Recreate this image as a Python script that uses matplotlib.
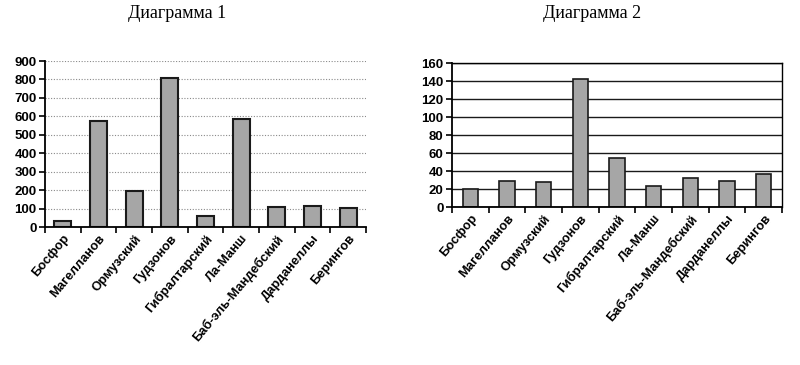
import numpy as np
import matplotlib
matplotlib.use("Agg")
import matplotlib.pyplot as plt

# ===== данные =====
STRAITS = ["Босфор", "Магелланов", "Ормузский", "Гудзонов", "Гибралтарский",
           "Ла-Манш", "Баб-эль-Мандебский", "Дарданеллы", "Берингов"]
VALUES_1 = [34, 575, 197, 806, 61, 584, 107, 116, 101]
VALUES_2 = [20, 29, 28, 142, 54, 23, 32, 29, 37]
TITLE_1 = "Диаграмма 1"
TITLE_2 = "Диаграмма 2"
# ==================

BAR_FACE = "#a6a6a6"
EDGE = "#1a1a1a"


def style_axis(ax, ymax, ystep, labels):
    x = np.arange(len(labels))
    ax.set_xlim(-0.5, len(labels) - 0.5)
    ax.set_ylim(0, ymax)
    ax.set_yticks(np.arange(0, ymax + 1, ystep))
    # риски между категориями, подписи под столбцами
    ax.set_xticks(np.arange(len(labels) + 1) - 0.5, minor=False)
    ax.set_xticklabels([])
    ax.set_xticks(x, minor=True)
    ax.set_xticklabels(labels, minor=True, rotation=50, ha="right",
                       rotation_mode="anchor", fontsize=9.3, fontweight="bold",
                       family="Liberation Sans")
    ax.tick_params(axis="x", which="minor", length=0, pad=4)
    ax.tick_params(axis="x", which="major", length=4, width=1.2, direction="out")
    ax.tick_params(axis="y", length=4, width=1.2, direction="out", pad=2)
    for lab in ax.get_yticklabels():
        lab.set_fontsize(9.5)
        lab.set_fontweight("bold")
        lab.set_family("Liberation Sans")
    ax.set_axisbelow(True)


fig = plt.figure(figsize=(8, 3.65), dpi=100)

# --- диаграмма 1 ---
ax1 = fig.add_axes([45 / 800, 1 - 227 / 365, 321 / 800, 166 / 365])
ax1.bar(np.arange(len(STRAITS)), VALUES_1, width=0.48, color=BAR_FACE,
        edgecolor=EDGE, linewidth=1.5)
style_axis(ax1, 900, 100, STRAITS)
ax1.yaxis.grid(True, linestyle=(0, (1, 1.5)), color="#8a8a8a", linewidth=0.8)
ax1.spines["top"].set_visible(False)
ax1.spines["right"].set_visible(False)
ax1.spines["left"].set_linewidth(1.3)
ax1.spines["bottom"].set_linewidth(1.3)
fig.text(177 / 800, 1 - 14 / 365, TITLE_1, ha="center", va="center",
         fontsize=13, family="Liberation Serif")

# --- диаграмма 2 ---
ax2 = fig.add_axes([452 / 800, 1 - 207 / 365, 330 / 800, 144 / 365])
ax2.bar(np.arange(len(STRAITS)), VALUES_2, width=0.42, color=BAR_FACE,
        edgecolor=EDGE, linewidth=1.2)
style_axis(ax2, 160, 20, STRAITS)
ax2.yaxis.grid(True, linestyle="-", color="#1a1a1a", linewidth=1.0)
for s in ax2.spines.values():
    s.set_linewidth(1.0)
ax2.spines["left"].set_linewidth(1.3)
ax2.spines["bottom"].set_linewidth(1.3)
fig.text(592 / 800, 1 - 14 / 365, TITLE_2, ha="center", va="center",
         fontsize=13, family="Liberation Serif")

fig.savefig("out.png", dpi=100, facecolor="white")
